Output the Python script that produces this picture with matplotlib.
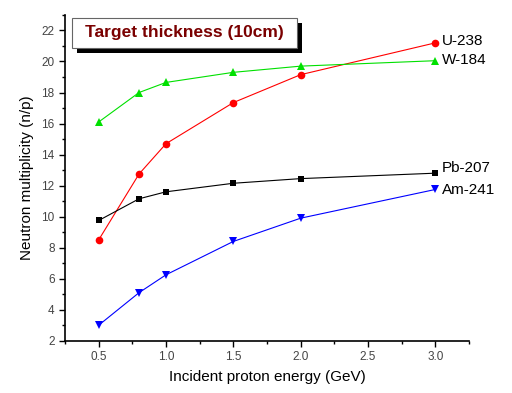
import numpy as np
import matplotlib
matplotlib.use("Agg")
import matplotlib.pyplot as plt
from matplotlib.patches import Rectangle
from matplotlib.ticker import MultipleLocator

plt.rcParams["font.family"] = ["Liberation Sans", "DejaVu Sans"]

energy = [0.5, 0.8, 1.0, 1.5, 2.0, 3.0]
u238 = [8.5, 12.75, 14.7, 17.35, 19.15, 21.2]
w184 = [16.1, 18.0, 18.65, 19.3, 19.7, 20.05]
pb207 = [9.75, 11.15, 11.6, 12.15, 12.45, 12.8]
am241 = [3.0, 5.1, 6.25, 8.4, 9.9, 11.75]

series = [
    ("U-238", u238, "#ff0000", "o", 0.0),
    ("W-184", w184, "#00e000", "^", -0.1),
    ("Pb-207", pb207, "black", "s", 0.2),
    ("Am-241", am241, "#0000ff", "v", -0.2),
]

fig = plt.figure(figsize=(5.12, 3.93), dpi=100)
ax = fig.add_axes([0.127, 0.133, 0.789, 0.829])

for name, vals, color, marker, dy in series:
    ms = 4.5 if marker == "s" else 5.5
    ax.plot(energy, vals, color=color, lw=0.8, marker=marker, ms=ms,
            markeredgewidth=0)
    ax.text(energy[-1] + 0.05, vals[-1] + dy + 0.15, name, fontsize=11,
            va="center", ha="left", color="black")

ax.set_xlim(0.25, 3.25)
ax.set_ylim(2, 23)
ax.xaxis.set_major_locator(MultipleLocator(0.5))
ax.xaxis.set_minor_locator(MultipleLocator(0.25))
ax.yaxis.set_major_locator(MultipleLocator(2))
ax.yaxis.set_minor_locator(MultipleLocator(1))
ax.set_xticks(np.arange(0.5, 3.01, 0.5))
ax.set_xticklabels([f"{v:.1f}" for v in np.arange(0.5, 3.01, 0.5)])
ax.tick_params(which="major", direction="out", length=4, width=1,
               labelsize=8.5, labelcolor="#444444")
ax.tick_params(which="minor", direction="out", length=2.5, width=1)
for side in ("top", "right"):
    ax.spines[side].set_visible(False)
for side in ("left", "bottom"):
    ax.spines[side].set_linewidth(1.2)

ax.set_xlabel("Incident proton energy (GeV)", fontsize=11, labelpad=5)
ax.set_ylabel("Neutron multiplicity (n/p)", fontsize=11, labelpad=5)

# title box with drop shadow, placed in figure coordinates
W, H = 512.0, 393.0
bx, by, bw, bh = 72 / W, 1 - 48 / H, 225 / W, 30 / H
fig.add_artist(Rectangle((bx + 5 / W, by - 5 / H), bw, bh, transform=fig.transFigure,
                         facecolor="black", edgecolor="none", zorder=5))
fig.add_artist(Rectangle((bx, by), bw, bh, transform=fig.transFigure,
                         facecolor="white", edgecolor="#666666", linewidth=0.8, zorder=6))
fig.text(bx + bw / 2, by + bh / 2, "Target thickness (10cm)", fontsize=12.5,
         fontweight="bold", color="#7a0000", ha="center", va="center", zorder=7)

fig.savefig("out.png", dpi=100)
